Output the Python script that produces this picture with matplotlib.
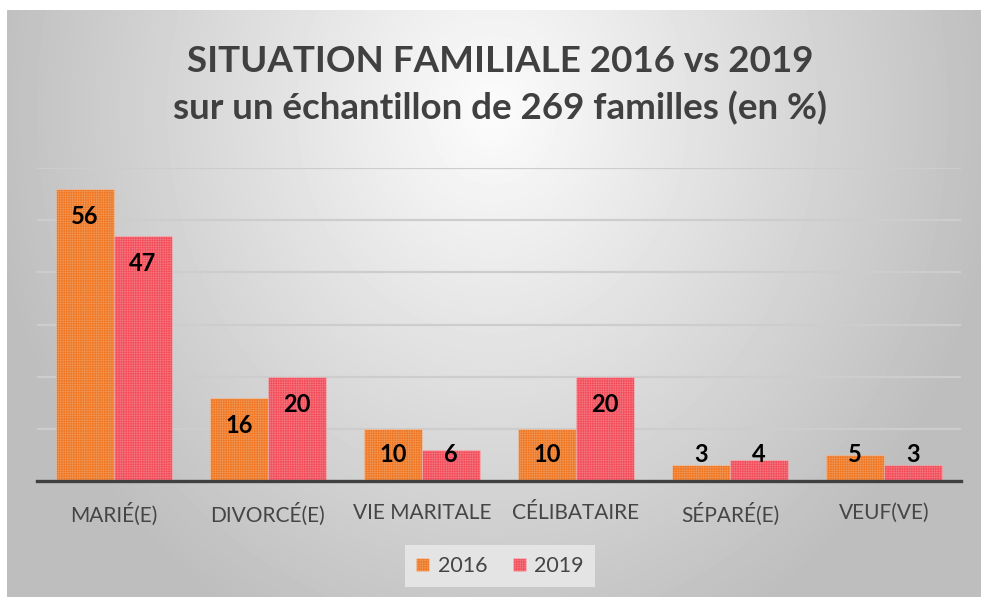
import numpy as np
import matplotlib.pyplot as plt
from matplotlib.patches import Patch

plt.rcParams['font.family'] = ['Lato', 'DejaVu Sans']
plt.rcParams['hatch.linewidth'] = 0.5

# données
categories = ["MARIÉ(E)", "DIVORCÉ(E)", "VIE MARITALE", "CÉLIBATAIRE", "SÉPARÉ(E)", "VEUF(VE)"]
vals_2016 = [56, 16, 10, 10, 3, 5]
vals_2019 = [47, 20, 6, 20, 4, 3]
series = ["2016", "2019"]
colors = ["#EE741E", "#F24956"]
hatch_col = (1, 1, 1, 0.22)
hatch = "+" * 7

W, H = 981, 597
fig = plt.figure(figsize=(W / 100, H / 100), dpi=100)

# fond dégradé radial
bg = fig.add_axes([7 / W, 0, (W - 7) / W, (H - 10) / H], zorder=-2)
yy, xx = np.mgrid[0:H - 10, 0:W - 7]
d = np.sqrt(((xx - 485) / 490) ** 2 + ((yy - 100) / 560) ** 2)
g = np.clip(252 - 60 * d, 190, 255) / 255
bg.imshow(g, cmap="gray", vmin=0, vmax=1, aspect="auto", interpolation="bilinear")
bg.axis("off")

ax = fig.add_axes([37 / W, (H - 481) / H, (961 - 37) / W, (481 - 168) / H])
ax.patch.set_alpha(0)

x = np.arange(len(categories))
bw = 0.377
for vals, off, col, lab in [(vals_2016, -bw / 2, colors[0], series[0]),
                            (vals_2019, bw / 2, colors[1], series[1])]:
    ax.bar(x + off, vals, bw, color=col, edgecolor=hatch_col,
           linewidth=0.8, hatch=hatch, label=lab, zorder=3)
    for xi, v in zip(x + off, vals):
        ax.text(xi, max(v - 5.3, 5.0), str(v), ha="center", va="center",
                fontsize=17, fontweight="bold", color="black", zorder=4)

ax.set_xlim(-0.5, len(categories) - 0.5)
ax.set_ylim(0, 60)
ax.set_yticks(range(0, 61, 10))
ax.yaxis.grid(True, color="#cdcdcd", linewidth=1.6, zorder=0)
ax.tick_params(axis="y", left=False, labelleft=False)
ax.tick_params(axis="x", bottom=False, pad=12, labelsize=15, labelcolor="#454545")
ax.set_xticks(x)
ax.set_xticklabels(categories)
for s in ["top", "right", "left"]:
    ax.spines[s].set_visible(False)
ax.spines["bottom"].set_color("#404040")
ax.spines["bottom"].set_linewidth(2.4)
ax.spines["bottom"].set_zorder(5)

# titre
fig.text(500 / W, 1 - 61 / H, "SITUATION FAMILIALE 2016 vs 2019", ha="center", va="center",
         fontsize=26.5, fontweight="bold", color="#404040")
fig.text(500 / W, 1 - 108 / H, "sur un échantillon de 269 familles (en %)", ha="center", va="center",
         fontsize=26.5, fontweight="bold", color="#404040")

# légende
handles = [Patch(facecolor=c, edgecolor=hatch_col, hatch=hatch, label=s)
           for c, s in zip(colors, series)]
leg = fig.legend(handles=handles, loc="center", bbox_to_anchor=(500 / W, 1 - 566 / H), ncol=2,
                 fontsize=15.5, frameon=True, fancybox=False, handlelength=0.6, handleheight=0.6,
                 handletextpad=0.4, columnspacing=1.2, borderpad=0.5, labelcolor="#454545")
leg.get_frame().set_facecolor("#e4e4e4")
leg.get_frame().set_edgecolor("none")
leg.get_frame().set_alpha(1)

plt.savefig("out.png", dpi=100)
